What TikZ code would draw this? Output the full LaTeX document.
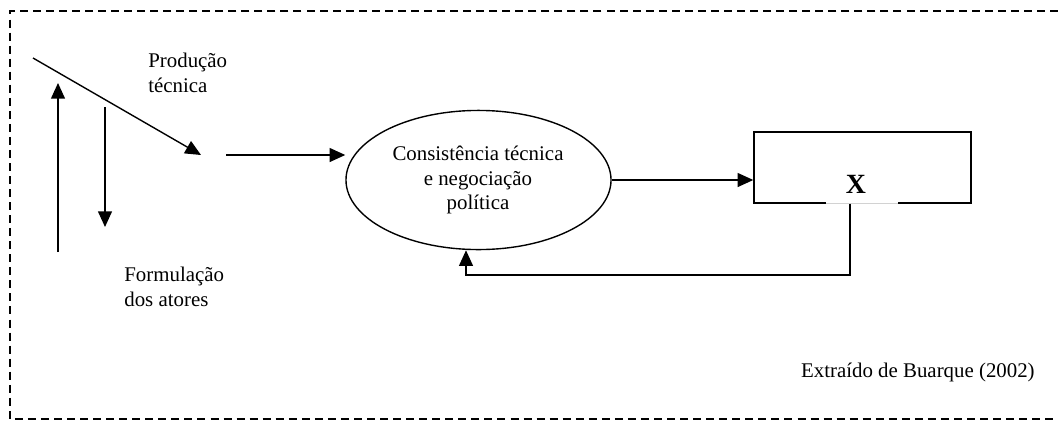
\documentclass[tikz,border=0pt]{standalone}
\usepackage{fontspec}
\setmainfont{Liberation Serif}
\usetikzlibrary{shapes.geometric}
\usetikzlibrary{arrows.meta}
\tikzset{
	arr/.style={line width=0.8pt, -{Triangle[length=9pt,width=8pt]}},
	lbl/.style={align=left, inner sep=0pt, font=\fontsize{12}{14}\selectfont},
	frame/.style={line width=0.6pt, dash pattern=on 4.6pt off 2.9pt},
}

\begin{document}
\begin{tikzpicture}[x=0.575pt, y=-0.575pt]
	\useasboundingbox (0,0) rectangle (1058,421);
	\draw[frame] (1058,11) -- (10,11) -- (10,419) -- (1058,419);	% border

	\coordinate (PA) at (33,58);	% Producao
	\coordinate (PB) at (201,155);
	\coordinate (UA) at (58,252);
	\coordinate (UB) at (58,83);
	\coordinate (DA) at (105,107);
	\coordinate (DB) at (105,227);
	\coordinate (IN) at (226,155);
	\node[lbl, anchor=west] (prod) at (148,73) {Produção\\técnica};
	\node[lbl, anchor=west] (form) at (124,287) {Formulação\\dos atores};

	\node[draw, ellipse, line width=0.8pt, minimum width=152.4pt, minimum height=80pt, inner sep=0pt] (ell) at (478.5,180) {};	% Ellipse
	\node[lbl, align=center] (ellt) at (478,180) {Consistência técnica\\e negociação\\política};

	\node[draw, line width=0.8pt, minimum width=124.8pt, minimum height=40.8pt, inner sep=0pt] (box) at (862.5,167.5) {};	% Box
	\node[inner sep=0pt, font=\fontsize{16}{18}\selectfont\bfseries] (X) at (856,184) {X};
	\draw[white, line width=1.6pt] (826,203) -- (898,203);
	\draw[gray!35, line width=0.3pt] (826,203) -- (898,203);

	\node[lbl, anchor=east] (src) at (1035,372) {Extraído de Buarque (2002)};

	\draw[arr] (PA) -- (PB);	% Arrows
	\draw[arr] (UA) -- (UB);
	\draw[arr] (DA) -- (DB);
	\draw[arr] (IN) -- (IN -| ell.west);
	\draw[arr] (ell.east) -- (ell.east -| box.west);
	\coordinate (FA) at (850,275);
	\coordinate (FB) at (466,275);
	\draw[arr] (FA |- box.south) -- (FA) -- (FB) -- (FB |- ell.south);
\end{tikzpicture}
\end{document}
